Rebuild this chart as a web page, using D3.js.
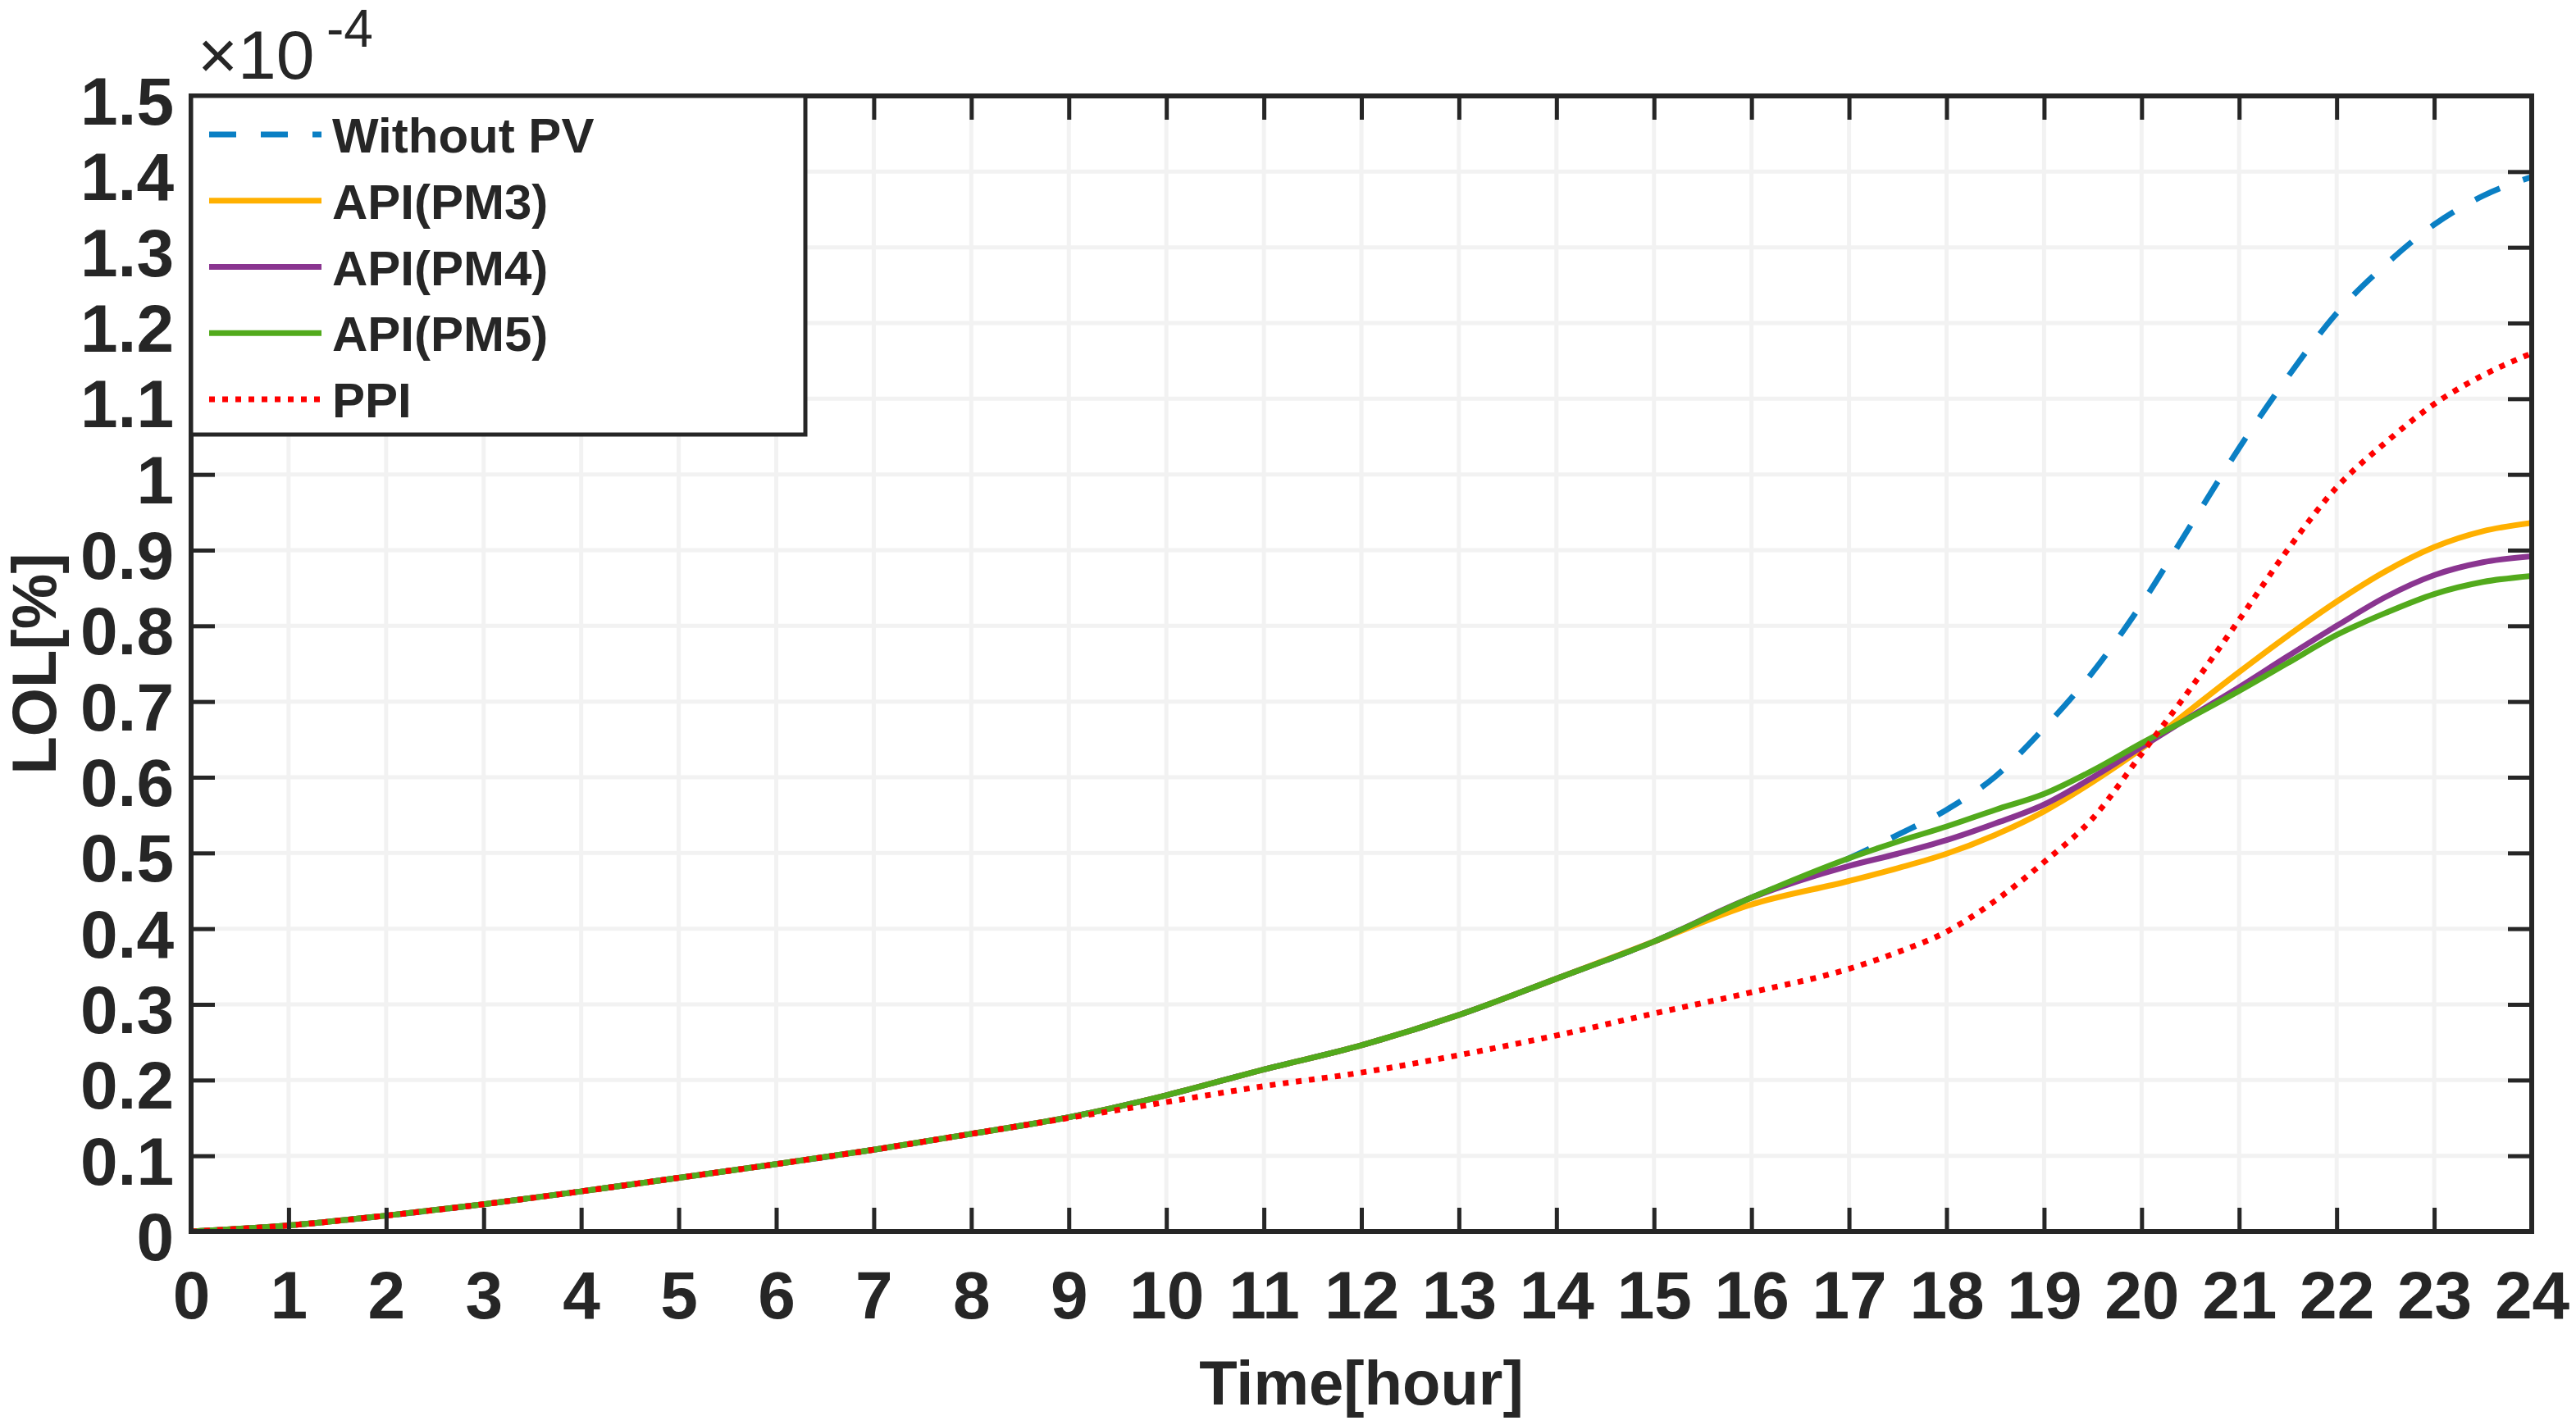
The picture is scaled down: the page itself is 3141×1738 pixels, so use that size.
<!DOCTYPE html>
<html>
<head>
<meta charset="utf-8">
<script src="https://cdn.jsdelivr.net/npm/d3@7"></script>
<style>
  body { margin: 0; background: #fff; }
  svg { display: block; }
  text { font-family: "Liberation Sans", Arial, sans-serif; fill: #262626; }
</style>
</head>
<body>
<script>
/* Chart data, LOL values are in units of 1e-4 */
// sampled hourly, then every half hour from 17 h where the curves split
var hours = [0, 1, 2, 3, 4, 5, 6, 7, 8, 9, 10, 11, 12, 13, 14, 15, 16, 17, 17.5, 18, 18.5, 19, 19.5, 20, 20.5, 21, 21.5, 22, 22.5, 23, 23.5, 24];
var lolWithoutPV = [0, 0.008, 0.021, 0.036, 0.053, 0.071, 0.089, 0.108, 0.129, 0.151, 0.180, 0.214, 0.246, 0.286, 0.334, 0.383, 0.441, 0.493, 0.524, 0.557, 0.601, 0.665, 0.739, 0.829, 0.932, 1.035, 1.129, 1.213, 1.277, 1.330, 1.368, 1.393];
var lolPM3 = [0, 0.008, 0.021, 0.036, 0.053, 0.071, 0.089, 0.108, 0.129, 0.151, 0.180, 0.214, 0.246, 0.286, 0.334, 0.383, 0.432, 0.463, 0.480, 0.499, 0.524, 0.555, 0.594, 0.638, 0.689, 0.739, 0.787, 0.832, 0.872, 0.904, 0.925, 0.936];
var lolPM4 = [0, 0.008, 0.021, 0.036, 0.053, 0.071, 0.089, 0.108, 0.129, 0.151, 0.180, 0.214, 0.246, 0.286, 0.334, 0.383, 0.441, 0.483, 0.499, 0.517, 0.539, 0.564, 0.600, 0.640, 0.680, 0.719, 0.760, 0.800, 0.838, 0.867, 0.884, 0.892];
var lolPM5 = [0, 0.008, 0.021, 0.036, 0.053, 0.071, 0.089, 0.108, 0.129, 0.151, 0.180, 0.214, 0.246, 0.286, 0.334, 0.383, 0.441, 0.493, 0.515, 0.535, 0.557, 0.578, 0.609, 0.645, 0.679, 0.714, 0.751, 0.788, 0.817, 0.842, 0.858, 0.866];
var lolPPI = [0, 0.008, 0.021, 0.036, 0.053, 0.071, 0.089, 0.108, 0.129, 0.150, 0.171, 0.192, 0.210, 0.233, 0.259, 0.288, 0.316, 0.347, 0.369, 0.396, 0.437, 0.488, 0.546, 0.631, 0.717, 0.808, 0.901, 0.983, 1.042, 1.093, 1.131, 1.160];

var seriesNames = ['Without PV', 'API(PM3)', 'API(PM4)', 'API(PM5)', 'PPI'];
var xTicks = [0, 1, 2, 3, 4, 5, 6, 7, 8, 9, 10, 11, 12, 13, 14, 15, 16, 17, 18, 19, 20, 21, 22, 23, 24];
var yTicks = [0, 0.1, 0.2, 0.3, 0.4, 0.5, 0.6, 0.7, 0.8, 0.9, 1, 1.1, 1.2, 1.3, 1.4, 1.5];

// Styles for each series, same order as seriesNames
var seriesStyle = [
    {color: '#0a7fc4', dash: '33,30'},
    {color: '#ffb000', dash: null},
    {color: '#8a3590', dash: null},
    {color: '#52aa1c', dash: null},
    {color: '#ff0000', dash: '7,9'}
];
var seriesValues = [lolWithoutPV, lolPM3, lolPM4, lolPM5, lolPPI];

var W = 3141, H = 1738;
// plot area edges (window.top is reserved, so no plain "top")
var plotL = 233, plotR = 3087, plotT = 117, plotB = 1502;
var ink = '#262626';

var svg = d3.select('body').append('svg')
    .attr('width', W)
    .attr('height', H);

var x = d3.scaleLinear().domain([0, 24]).range([plotL, plotR]);
var y = d3.scaleLinear().domain([0, 1.5]).range([plotB, plotT]);

// Grid lines
var grid = svg.append('g');
grid.selectAll('line.gx').data(xTicks).enter().append('line')
    .attr('x1', function(d){ return x(d); })
    .attr('x2', function(d){ return x(d); })
    .attr('y1', plotT).attr('y2', plotB)
    .style('stroke', '#f2f2f2').style('stroke-width', 5);
grid.selectAll('line.gy').data(yTicks).enter().append('line')
    .attr('y1', function(d){ return y(d); })
    .attr('y2', function(d){ return y(d); })
    .attr('x1', plotL).attr('x2', plotR)
    .style('stroke', '#f2f2f2').style('stroke-width', 5);

// Series lines
svg.append('clipPath').attr('id', 'plot')
    .append('rect').attr('x', plotL).attr('y', plotT)
    .attr('width', plotR - plotL).attr('height', plotB - plotT);

var line = d3.line()
    .x(function(d){ return x(d[0]); })
    .y(function(d){ return y(d[1]); })
    .curve(d3.curveMonotoneX);

seriesValues.forEach(function(vals, i){
    var pts = hours.map(function(h, k){ return [h, vals[k]]; });
    svg.append('path')
        .attr('clip-path', 'url(#plot)')
        .attr('d', line(pts))
        .style('fill', 'none')
        .style('stroke', seriesStyle[i].color)
        .style('stroke-width', 7)
        .style('stroke-dasharray', seriesStyle[i].dash);
});

// Axes, ticks pointing inwards on all four sides
var tickLen = 29;
function styleAxis(g){
    g.select('.domain').remove();
    g.selectAll('.tick line').style('stroke', ink).style('stroke-width', 5);
    g.selectAll('text')
        .style('font-size', '82px')
        .style('font-weight', 'bold')
        .style('font-family', '"Liberation Sans", Arial, sans-serif')
        .style('fill', ink);
}

svg.append('g').attr('transform', 'translate(0,' + plotB + ')')
    .call(d3.axisBottom(x).tickValues(xTicks).tickSize(-tickLen).tickPadding(48).tickFormat(d3.format('d')))
    .call(styleAxis);
svg.append('g').attr('transform', 'translate(0,' + plotT + ')')
    .call(d3.axisTop(x).tickValues(xTicks).tickSize(-tickLen).tickFormat(''))
    .call(styleAxis);
svg.append('g').attr('transform', 'translate(' + plotL + ',0)')
    .call(d3.axisLeft(y).tickValues(yTicks).tickSize(-tickLen).tickPadding(21).tickFormat(d3.format('~g')))
    .call(styleAxis)
    .selectAll('text').attr('dy', '0.42em');
svg.append('g').attr('transform', 'translate(' + plotR + ',0)')
    .call(d3.axisRight(y).tickValues(yTicks).tickSize(-tickLen).tickFormat(''))
    .call(styleAxis);

// Box around the axes
svg.append('rect')
    .attr('x', plotL).attr('y', plotT)
    .attr('width', plotR - plotL).attr('height', plotB - plotT)
    .style('fill', 'none').style('stroke', ink).style('stroke-width', 6);

// Exponent label
svg.append('text').attr('x', 241).attr('y', 96)
    .style('font-size', '84px').text('\u00d710');
svg.append('text').attr('x', 398).attr('y', 57)
    .style('font-size', '64px').text('-4');

// Axis titles
svg.append('text')
    .attr('x', (plotL + plotR) / 2).attr('y', 1713)
    .attr('text-anchor', 'middle')
    .style('font-size', '76px').style('font-weight', 'bold')
    .text('Time[hour]');
svg.append('text')
    .attr('transform', 'translate(68,' + ((plotT + plotB) / 2) + ') rotate(-90)')
    .attr('text-anchor', 'middle')
    .style('font-size', '76px').style('font-weight', 'bold')
    .text('LOL[%]');

// Legend
var legend = svg.append('g');
legend.append('rect')
    .attr('x', plotL).attr('y', plotT)
    .attr('width', 982 - plotL).attr('height', 530 - plotT)
    .style('fill', '#fff').style('stroke', ink).style('stroke-width', 5);

var rowY = d3.scaleLinear().domain([0, 4]).range([164, 487]);
seriesNames.forEach(function(name, i){
    legend.append('line')
        .attr('x1', 255).attr('x2', 392)
        .attr('y1', rowY(i)).attr('y2', rowY(i))
        .style('stroke', seriesStyle[i].color)
        .style('stroke-width', 7)
        .style('stroke-dasharray', seriesStyle[i].dash);
    legend.append('text')
        .attr('x', 405).attr('y', rowY(i) + 22)
        .style('font-size', '60px').style('font-weight', 'bold')
        .text(name);
});
</script>
</body>
</html>
